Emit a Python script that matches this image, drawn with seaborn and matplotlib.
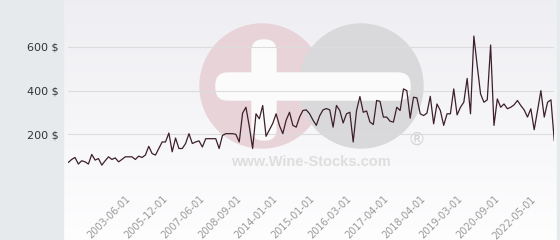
import numpy as np
import pandas as pd
import matplotlib
matplotlib.use("Agg")
import matplotlib.pyplot as plt
import seaborn as sns
from matplotlib.patches import Circle, FancyBboxPatch, Rectangle
from matplotlib.ticker import FuncFormatter

# ---- data ----
prices = [
    71, 85, 94, 64, 79, 74, 64, 108, 82, 89,
    59, 79, 97, 85, 92, 74, 85, 97, 97, 97,
    85, 100, 94, 105, 145, 112, 105, 135, 165, 165,
    206, 120, 183, 135, 135, 158, 203, 158, 165, 170,
    142, 180, 180, 180, 180, 135, 195, 203, 203, 203,
    200, 165, 297, 324, 236, 135, 294, 271, 332, 191,
    220, 250, 294, 240, 203, 265, 301, 241, 233, 279,
    309, 312, 294, 265, 241, 285, 312, 318, 312, 233,
    332, 309, 252, 294, 301, 165, 309, 373, 301, 307,
    256, 245, 355, 351, 279, 279, 260, 256, 324, 309,
    408, 400, 274, 370, 367, 294, 286, 297, 374, 248,
    339, 309, 241, 294, 294, 408, 289, 324, 347, 456,
    294, 650, 514, 385, 347, 358, 609, 241, 362, 324,
    339, 317, 324, 335, 355, 332, 312, 279, 317, 221,
    309, 400, 279, 347, 358, 170,
]
tick_labels = ["2003-06-01", "2005-12-01", "2007-06-01", "2008-09-01",
               "2014-01-01", "2015-01-01", "2016-03-01", "2017-04-01",
               "2018-04-01", "2019-03-01", "2020-09-01", "2022-05-01"]
first_tick = 17
tick_step = 11
y_ticks = [0, 200, 400, 600]

df = pd.DataFrame({"idx": np.arange(len(prices)), "price": prices})

sns.set_style("white")
plt.rcParams["font.family"] = ["DejaVu Sans"]

W, H = 560, 240
fig = plt.figure(figsize=(W / 100, H / 100), dpi=100)

# ---- background + watermark (pixel coordinates) ----
bg = fig.add_axes([0, 0, 1, 1], zorder=-10)
bg.set_xlim(0, W)
bg.set_ylim(H, 0)
bg.axis("off")
top = np.array([0.935, 0.935, 0.952])
bot = np.array([0.995, 0.995, 0.998])
t = np.linspace(0, 1, H).reshape(-1, 1, 1)
grad = top * (1 - t) + bot * t
bg.imshow(grad, extent=[0, W, H, 0], aspect="auto", zorder=0)
bg.add_patch(Rectangle((0, 0), 63, H, color="#e6eaed", zorder=1))
bg.add_patch(Rectangle((557, 0), 3, H, color="#e6eaed", zorder=1))

bg.add_patch(Circle((262, 86), 62, color="#e8d3d9", zorder=2))
bg.add_patch(Circle((361, 86), 62, color="#d9d9db", zorder=3))
bg.add_patch(FancyBboxPatch((252, 40), 24, 100, boxstyle="round,pad=0,rounding_size=11",
                            color="#fbfbfc", zorder=4))
bg.add_patch(FancyBboxPatch((216, 73), 194, 27, boxstyle="round,pad=0,rounding_size=12",
                            color="#fbfbfc", zorder=4))
bg.text(311, 162, "www.Wine-Stocks.com", ha="center", va="center", fontsize=10.5,
        fontweight="bold", color="#dedede", family=["Liberation Sans", "DejaVu Sans"], zorder=5)
bg.text(416, 140, "\u00ae", ha="center", va="center", fontsize=13,
        color="#d4d4d4", family=["DejaVu Sans"], zorder=5)

# ---- main chart ----
x0, x1 = 68.3, 554.3
y_zero, y_top = 178, 3.3
ax = fig.add_axes([x0 / W, (H - y_zero) / H, (x1 - x0) / W, (y_zero - y_top) / H])
ax.patch.set_alpha(0)

sns.lineplot(data=df, x="idx", y="price", color="#3d2029", linewidth=0.9, ax=ax)

ax.set_xlim(0, len(prices) - 1)
ax.set_ylim(0, 800)
ax.set_yticks(y_ticks)
ax.yaxis.set_major_formatter(FuncFormatter(lambda v, p: "" if v == 0 else f"{int(v)} $"))
ax.grid(axis="y", color="#dcdcdc", linewidth=0.8)
ax.grid(axis="x", visible=False)
for s in ax.spines.values():
    s.set_visible(False)

tick_pos = [first_tick + tick_step * k for k in range(len(tick_labels))]
ax.set_xticks(tick_pos)
ax.set_xticklabels(tick_labels, rotation=45, ha="right", va="top",
                   rotation_mode="anchor", fontsize=7, color="#999999")
ax.tick_params(axis="x", length=0, pad=11.5)
ax.tick_params(axis="y", length=0, pad=6.7, labelsize=8, labelcolor="#333333")
ax.set_xlabel("")
ax.set_ylabel("")

fig.savefig("out.png", dpi=100)
